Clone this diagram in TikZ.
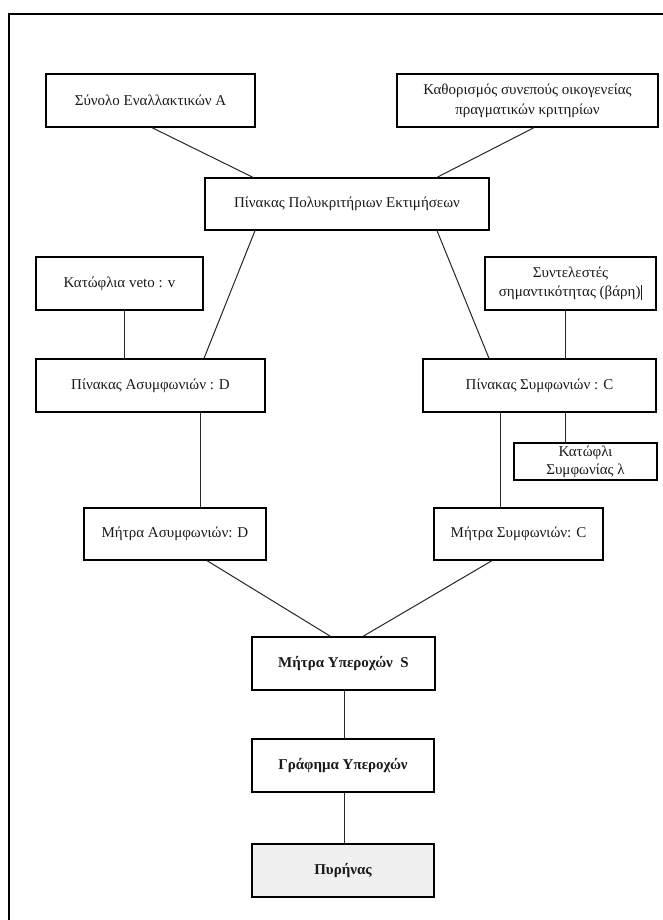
\documentclass[tikz,border=0pt]{standalone}
\usepackage{fontspec}
\setmainfont{Liberation Serif}
\usetikzlibrary{calc}
\definecolor{txt}{HTML}{1A1A1A}
\begin{document}
\begin{tikzpicture}[x=1pt,y=-1pt,
  box/.style={draw=black,line width=1.3pt,inner sep=2pt,align=center,text=txt,
    font=\fontsize{15}{20}\selectfont},
  bbox/.style={box,font=\fontsize{15}{20}\selectfont\bfseries},
  link/.style={draw=black!85,line width=1pt},
  frame/.style={draw=black,line width=2.2pt}]
\useasboundingbox (0,0) rectangle (663,920);
\coordinate (ftl) at (9,14);
\coordinate (ftr) at (663,14);
\coordinate (fbl) at (9,920);
\draw[frame] (ftr) -- (ftl) -- (fbl);

\node[box,minimum width=209,minimum height=53] (s) at (150.5,100.5) {Σύνολο Εναλλακτικών Α};
\node[box,minimum width=261,minimum height=53] (k) at (527.5,100.5) {Καθορισμός συνεπούς οικογενείας\\πραγματικών κριτηρίων};
\node[box,minimum width=284,minimum height=52] (p) at (347,204) {Πίνακας Πολυκριτήριων Εκτιμήσεων};
\node[box,minimum width=167,minimum height=53] (v) at (119.5,283.5) {Κατώφλια veto : v};
\node[box,minimum width=171,minimum height=53,font=\fontsize{15}{19}\selectfont] (w) at (570.5,283.5) {Συντελεστές\\σημαντικότητας (βάρη)\rule[-3pt]{1.6pt}{15pt}};
\node[box,minimum width=229,minimum height=53] (a) at (150.5,385.5) {Πίνακας Ασυμφωνιών : D};
\node[box,minimum width=233,minimum height=53] (c) at (539.5,385.5) {Πίνακας Συμφωνιών : C};
\node[box,minimum width=143,minimum height=37,inner sep=0pt,font=\fontsize{15}{18}\selectfont] (l) at (585.5,461.5) {Κατώφλι\\Συμφωνίας λ};
\node[box,minimum width=182,minimum height=52] (ma) at (175,534) {Μήτρα Ασυμφωνιών: D};
\node[box,minimum width=169,minimum height=52] (mc) at (518.5,534) {Μήτρα Συμφωνιών: C};
\node[bbox,minimum width=183,minimum height=53] (ms) at (343.5,663.5) {Μήτρα Υπεροχών\ \ S};
\node[bbox,minimum width=182,minimum height=53] (g) at (343,765.5) {Γράφημα Υπεροχών};
\node[bbox,minimum width=182,minimum height=53,fill=black!6] (n) at (343,870.5) {Πυρήνας};

\draw[link] ([xshift=1.5]s.south) -- ([xshift=-94]p.north);
\draw[link] ([xshift=6.5]k.south) -- ([xshift=90]p.north);
\draw[link] ([xshift=-92]p.south) -- ([xshift=53.5]a.north);
\draw[link] ([xshift=90]p.south) -- ([xshift=-50.5]c.north);
\draw[link] ([xshift=4.5]v.south) -- ([xshift=-26.5]a.north);
\draw[link] ([xshift=-5.5]w.south) -- ([xshift=25.5]c.north);
\draw[link] ([xshift=25.5]c.south) -- ([xshift=-20.5]l.north);
\draw[link] ([xshift=-39.5]c.south) -- ([xshift=-18.5]mc.north);
\draw[link] ([xshift=49.5]a.south) -- ([xshift=25]ma.north);
\draw[link] ([xshift=32]ma.south) -- ([xshift=-13]ms.north);
\draw[link] ([xshift=-26.5]mc.south) -- ([xshift=19.5]ms.north);
\draw[link] ([xshift=0.5]ms.south) -- ([xshift=1]g.north);
\draw[link] ([xshift=1]g.south) -- ([xshift=1]n.north);
\end{tikzpicture}
\end{document}
